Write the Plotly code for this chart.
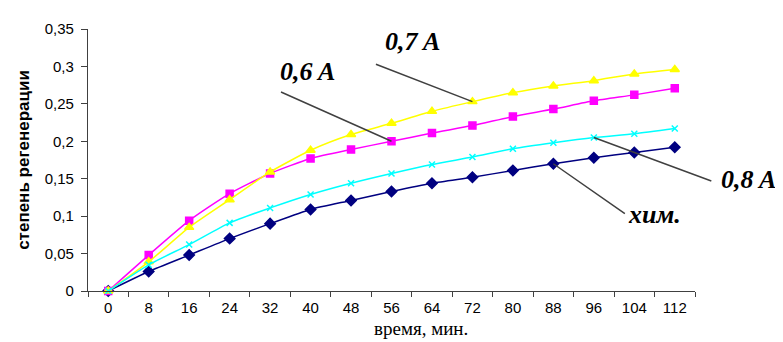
import plotly.graph_objects as go

time_min = [0, 8, 16, 24, 32, 40, 48, 56, 64, 72, 80, 88, 96, 104, 112]
chem = [0, 0.026, 0.048, 0.070, 0.090, 0.109, 0.121, 0.133, 0.144, 0.152, 0.161, 0.170, 0.178, 0.185, 0.192]
a06 = [0, 0.048, 0.094, 0.130, 0.157, 0.177, 0.189, 0.200, 0.211, 0.221, 0.233, 0.243, 0.254, 0.262, 0.271]
a07 = [0, 0.039, 0.085, 0.122, 0.159, 0.188, 0.209, 0.224, 0.240, 0.253, 0.265, 0.274, 0.281, 0.290, 0.296]
a08 = [0, 0.035, 0.062, 0.091, 0.111, 0.129, 0.144, 0.157, 0.169, 0.179, 0.190, 0.198, 0.205, 0.210, 0.217]

series = [
    ("хим.", chem, "#000080", "diamond", 8),
    ("0,6 A", a06, "#FF00FF", "square", 7),
    ("0,7 A", a07, "#FFFF00", "triangle-up", 8),
    ("0,8 A", a08, "#00FFFF", "x-thin", 6),
]

fig = go.Figure()
for name, vals, color, sym, size in series:
    fig.add_trace(go.Scatter(
        x=time_min, y=vals, name=name, mode="lines+markers",
        line=dict(color=color, width=1.5, shape="spline", smoothing=0.6),
        marker=dict(symbol=sym, size=size, color=color,
                    line=dict(color=color, width=1.5)),
        cliponaxis=False,
    ))

# leader lines: (series index, point index, tail offset px, label shift px)
leaders = [
    (1, 7, -112, -50, -84, 70),
    (2, 9, -98, -38, -60, 60),
    (3, 12, 119, 44, 155, -42),
    (0, 11, 73, 51, 101, -51),
]
for si, pi, ax, ay, xs, ys in leaders:
    name, vals = series[si][0], series[si][1]
    fig.add_annotation(x=time_min[pi], y=vals[pi], xref="x", yref="y",
                       text="", showarrow=True, arrowhead=0, arrowwidth=1.5,
                       arrowcolor="#404040", ax=ax, ay=ay, standoff=0, startstandoff=0)
    fig.add_annotation(x=time_min[pi], y=vals[pi], xref="x", yref="y",
                       text="<b><i>%s</i></b>" % name, showarrow=False,
                       xshift=xs, yshift=ys,
                       font=dict(family="Liberation Serif", size=26, color="black"))

fig.add_annotation(x=0.548, y=-0.145, xref="paper", yref="paper", text="время, мин.",
                   showarrow=False, xanchor="center", yanchor="middle",
                   font=dict(family="Liberation Serif", size=19, color="black"))

fig.update_layout(
    width=783, height=342,
    margin=dict(l=80, r=96, t=18, b=59),
    paper_bgcolor="white", plot_bgcolor="white",
    showlegend=False,
    separators=", ",
    font=dict(family="Liberation Sans", size=15, color="black"),
)
fig.update_xaxes(
    range=[-4, 116], tickmode="array", tickvals=time_min,
    ticktext=[str(t) for t in time_min], ticks="", ticklabelstandoff=3,
    showline=True, linecolor="#404040", linewidth=1.2, showgrid=False, zeroline=False,
    minor=dict(tickmode="linear", tick0=-4, dtick=8, ticks="outside", ticklen=5,
               tickcolor="#404040", tickwidth=1.2, showgrid=False),
)
fig.update_yaxes(
    range=[0, 0.35], dtick=0.05, tick0=0, ticks="outside", ticklen=6,
    tickcolor="#404040", tickwidth=1.2, ticklabelstandoff=4,
    showline=True, linecolor="#404040", linewidth=1.2, showgrid=False, zeroline=False,
    title=dict(text="<b>степень регенерации</b>", font=dict(size=17), standoff=10),
)

fig.write_html("out.html")
